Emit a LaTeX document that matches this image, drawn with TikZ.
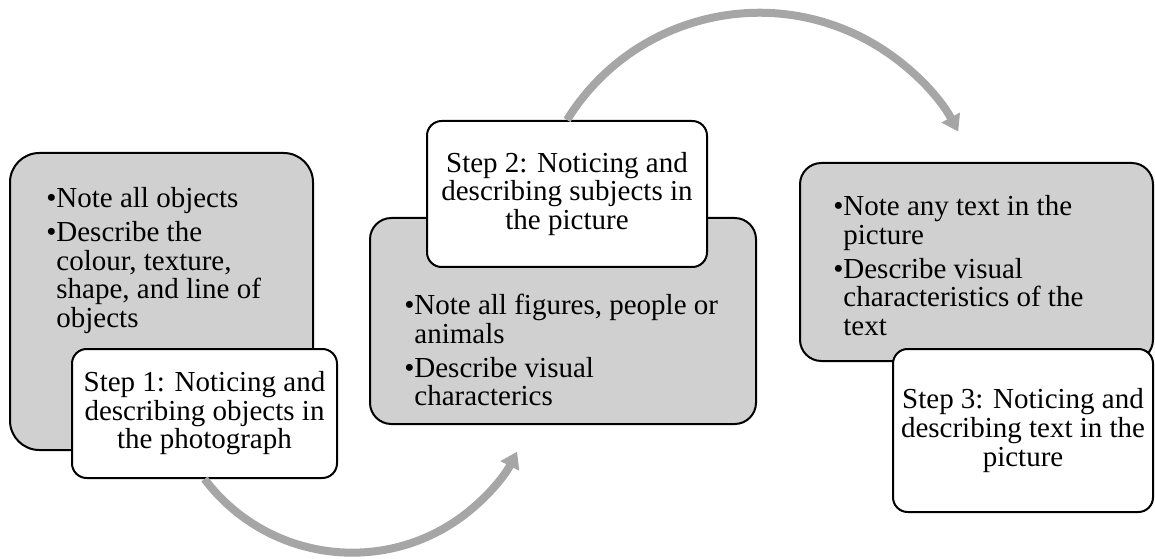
\documentclass[tikz,border=0pt]{standalone}
\usepackage{fontspec}
\setmainfont{Liberation Serif}
\usepackage{tikz}
\usetikzlibrary{arrows.meta}

\definecolor{boxgray}{RGB}{208,208,208}
\definecolor{flowgray}{RGB}{166,166,166}
\newcommand{\pxu}{0.75pt}
\newcommand{\brk}{\hfil\break}
\newcommand{\bitem}[1]{\par\setlength{\parskip}{3.75pt}\setbox0=\hbox{\textbullet}\hangindent=\wd0 \hangafter=1 \noindent\box0 #1}
\newcommand{\notes}[1]{\parbox[t]{247.5pt}{#1}}

\tikzset{
  notebox/.style={draw=black, line width=1.5pt, fill=boxgray, rounded corners=#1, inner sep=0pt},
  stepbox/.style={draw=black, line width=1.5pt, fill=white, rounded corners=11pt, inner sep=0pt, align=center},
  notetext/.style={anchor=base west, inner sep=0pt},
  flow/.style={draw=flowgray, line width=6pt, -{Triangle[length=12pt,width=15pt]}}
}

\begin{document}
\begin{tikzpicture}[x=0.75pt,y=-0.75pt,font=\fontsize{21.75pt}{21.4pt}\selectfont]
\useasboundingbox (0,0) rectangle (1155,559);
% 三つの手順
\node[notebox=22pt, minimum width=303*\pxu, minimum height=297*\pxu] (g1) at (161.5,301.5) {};
\node[notetext] (t1) at (46,208) {\notes{\bitem{Note all objects}\bitem{Describe the\brk colour, texture,\brk shape, and line of\brk objects}}};
\node[stepbox, minimum width=265*\pxu, minimum height=129*\pxu] (w1) at (204.5,413.5) {Step 1: Noticing and\\describing objects in\\the photograph};

\node[notebox=16pt, minimum width=386*\pxu, minimum height=206*\pxu] (g2) at (563,321) {};
\node[notetext] (t2) at (404,315) {\notes{\bitem{Note all figures, people or\brk animals}\bitem{Describe visual\brk characterics}}};
\node[stepbox, minimum width=280*\pxu, minimum height=146*\pxu] (w2) at (567,194) {Step 2: Noticing and\\describing subjects in\\the picture};

\node[notebox=16pt, minimum width=353*\pxu, minimum height=198*\pxu] (g3) at (976.5,262) {};
\node[notetext] (t3) at (833,216) {\notes{\bitem{Note any text in the\brk picture}\bitem{Describe visual\brk characteristics of the\brk text}}};
\node[stepbox, minimum width=260*\pxu, minimum height=163*\pxu] (w3) at (1023,430.5) {Step 3: Noticing and\\describing text in the\\picture};

% 矢印
\draw[flow] (w1.south) arc[start angle=143, end angle=27, radius=185];
\draw[flow] (w2.north) arc[start angle=211.7, end angle=331.7, radius=226];
\end{tikzpicture}
\end{document}
